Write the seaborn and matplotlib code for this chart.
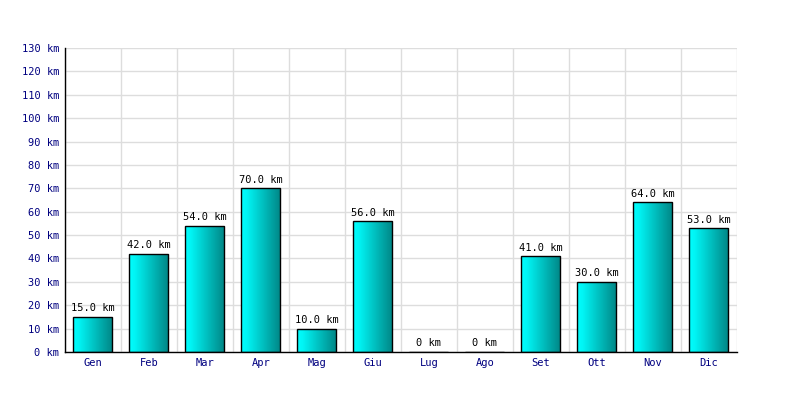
import numpy as np
import pandas as pd
import matplotlib
matplotlib.use("Agg")
import matplotlib.pyplot as plt
from matplotlib.colors import LinearSegmentedColormap
import seaborn as sns

# -------------------------
# Data
# -------------------------

months = ["Gen", "Feb", "Mar", "Apr", "Mag", "Giu", "Lug", "Ago", "Set", "Ott", "Nov", "Dic"]
distance_km = [15.0, 42.0, 54.0, 70.0, 10.0, 56.0, 0.0, 0.0, 41.0, 30.0, 64.0, 53.0]
y_ticks = list(range(0, 131, 10))

df = pd.DataFrame({"month": months, "km": distance_km})

# -------------------------
# Style
# -------------------------

sns.set_theme(style="white")
plt.rcParams["font.family"] = ["DejaVu Sans Mono", "DejaVu Sans"]

fig = plt.figure(figsize=(8, 4), dpi=100)
ax = fig.add_axes([0.081, 0.12, 0.84, 0.76])

sns.barplot(data=df, x="month", y="km", color="#00e0e0", width=0.7,
            edgecolor="black", linewidth=1.0, ax=ax, zorder=3)

# gradient fill: cyan -> teal, left to right
grad_cmap = LinearSegmentedColormap.from_list(
    "bar", [(0.0, "#00ffff"), (0.15, "#00f4f4"), (1.0, "#008585")])
gradient = np.linspace(0, 1, 256).reshape(1, -1)
for patch in ax.patches:
    x0, y0 = patch.get_x(), patch.get_y()
    w, h = patch.get_width(), patch.get_height()
    if h <= 0:
        continue
    im = ax.imshow(gradient, cmap=grad_cmap, aspect="auto",
                   extent=(x0, x0 + w, y0, y0 + h), zorder=3.5)
    im.set_clip_path(patch)
    patch.set_facecolor("none")
    patch.set_zorder(4)

# value labels
for i, v in enumerate(distance_km):
    label = f"{v:.1f} km" if v > 0 else "0 km"
    ax.text(i, v + 1.5, label, ha="center", va="bottom",
            fontsize=7.5, color="black", zorder=5)

# -------------------------
# Axes
# -------------------------

ax.set_xlim(-0.5, len(months) - 0.5)
ax.set_ylim(0, 130)
ax.set_yticks(y_ticks)
ax.set_yticklabels([f"{t} km" for t in y_ticks])
ax.set_xticks(range(len(months)))
ax.set_xticklabels(months)
ax.set_xticks(np.arange(-0.5, len(months), 1), minor=True)

ax.tick_params(axis="both", which="both", length=0, labelsize=7.5,
               labelcolor="#000080", pad=4)
ax.grid(axis="y", which="major", color="#dddddd", linewidth=1, zorder=0)
ax.grid(axis="x", which="minor", color="#dddddd", linewidth=1, zorder=0)
ax.set_axisbelow(True)

ax.set_xlabel("")
ax.set_ylabel("")

for side in ["top", "right"]:
    ax.spines[side].set_visible(False)
for side in ["left", "bottom"]:
    ax.spines[side].set_color("black")
    ax.spines[side].set_linewidth(1)
    ax.spines[side].set_zorder(6)

fig.savefig("out.png", dpi=100)
